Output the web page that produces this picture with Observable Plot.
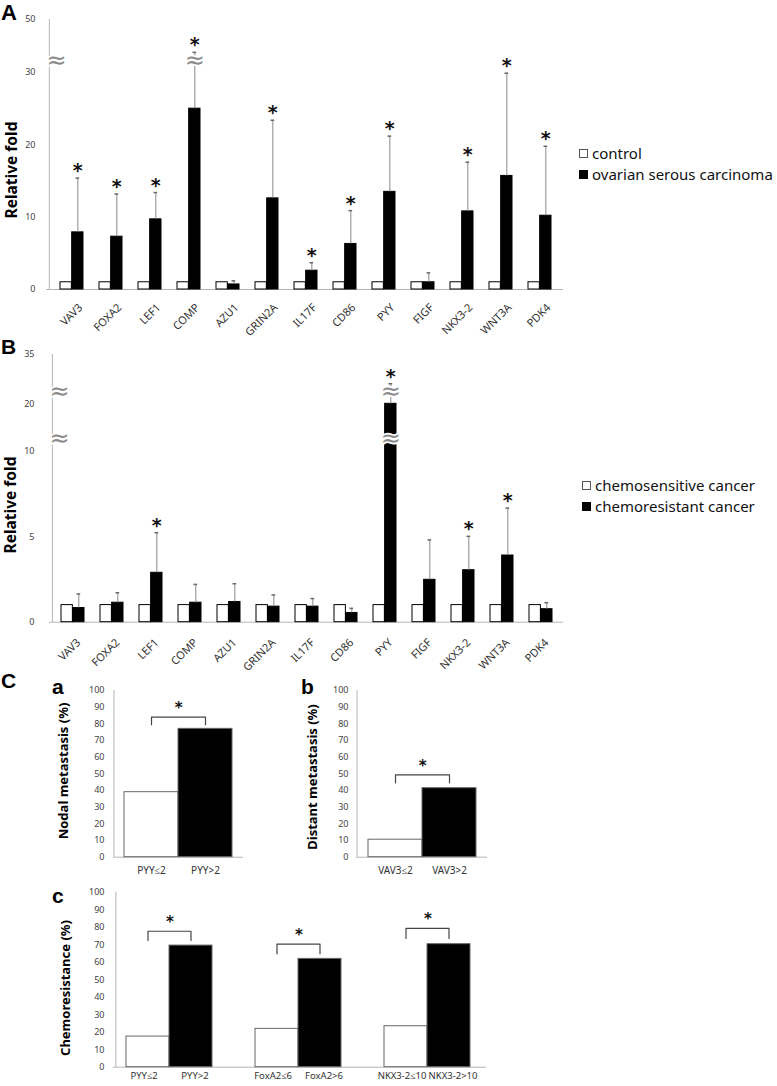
<!DOCTYPE html>
<html><head><meta charset="utf-8">
<script src="https://cdn.jsdelivr.net/npm/d3@7"></script>
<script src="https://cdn.jsdelivr.net/npm/@observablehq/plot@0.6"></script>
<style>
body{margin:0;background:#fff;font-family:"Noto Sans",sans-serif;}
#fig{position:relative;width:777px;height:1086px;overflow:hidden;background:#fff;}
.letter{position:absolute;font-weight:bold;font-family:"Liberation Sans",Arial,sans-serif;line-height:1;color:#000;}
.ytitle{position:absolute;font-weight:bold;white-space:nowrap;transform:translate(-50%,-50%) rotate(-90deg);line-height:1;color:#000;font-family:"Noto Sans",sans-serif;}
.legend{position:absolute;font-size:15px;line-height:21px;color:#111;white-space:nowrap;font-family:"Noto Sans",sans-serif;}
.sw{display:inline-block;width:7px;height:7px;border:1px solid #000;margin-right:4px;vertical-align:middle;position:relative;top:-1px;}
.glabel{position:absolute;font-size:11px;line-height:1;color:#333;white-space:nowrap;font-family:"Noto Sans",sans-serif;transform-origin:100% 50%;transform:translate(-100%,-50%) rotate(-45deg);}
</style></head><body><div id="fig"></div>
<script>
// ---------- data ----------
const genes = ["VAV3","FOXA2","LEF1","COMP","AZU1","GRIN2A","IL17F","CD86","PYY","FIGF","NKX3-2","WNT3A","PDK4"];
// Panel A
const aControl = [1,1,1,1,1,1,1,1,1,1,1,1,1];
const aCarcinoma = [7.9, 7.3, 9.7, 25.0, 0.7, 12.6, 2.6, 6.3, 13.5, 1.0, 10.8, 15.7, 10.2];
const aCarcinomaUpper = [15.4, 13.2, 13.4, 37.6, 1.2, 23.4, 3.7, 10.9, 21.2, 2.3, 17.6, 29.9, 19.8];
const aSignificant = ["VAV3","FOXA2","LEF1","COMP","GRIN2A","IL17F","CD86","PYY","NKX3-2","WNT3A","PDK4"];
const aTicks = [0, 10, 20, 30, 50];
const aBreakpoints = [0, 30, 50];      // axis break between 30 and 50
const aBreakSpan = [0, 217, 270];      // drawn length of each axis segment
const aBreaks = [34.5];
const aBreakGene = "COMP";
const aLegend = ["control", "ovarian serous carcinoma"];
// Panel B
const bSensitive = [1,1,1,1,1,1,1,1,1,1,1,1,1];
const bResistant = [0.83, 1.14, 2.89, 1.14, 1.18, 0.91, 0.91, 0.54, 20.0, 2.48, 3.04, 3.9, 0.76];
const bResistantUpper = [1.65, 1.72, 5.23, 2.21, 2.25, 1.59, 1.38, 0.81, 26.1, 4.81, 5.02, 6.67, 1.14];
const bSignificant = ["LEF1","PYY","NKX3-2","WNT3A"];
const bTicks = [0, 5, 10, 20, 35];
const bBreakpoints = [0, 10, 20, 35];  // axis breaks 10–20 and 20–35
const bBreakSpan = [0, 171, 218.4, 267.7];
const bBreaks = [12.7, 23.7];
const bBreakGene = "PYY";
const bLegend = ["chemosensitive cancer", "chemoresistant cancer"];
// Panel C
const caCats = ["PYY≤2", "PYY>2"];
const caValues = [39, 77];
const caBrackets = [{from: "PYY≤2", to: "PYY>2", top: 84, low: 79.5}];
const cbCats = ["VAV3≤2", "VAV3>2"];
const cbValues = [10.5, 41.4];
const cbBrackets = [{from: "VAV3≤2", to: "VAV3>2", top: 49.4, low: 44.6}];
const ccCats = ["PYY≤2", "PYY>2", "FoxA2≤6", "FoxA2>6", "NKX3-2≤10", "NKX3-2>10"];
const ccValues = [17.5, 69.5, 21.9, 61.9, 23.4, 70.3];
const ccBrackets = [
  {from: "PYY≤2", to: "PYY>2", top: 77.7, low: 72.4},
  {from: "FoxA2≤6", to: "FoxA2>6", top: 70.3, low: 64.8},
  {from: "NKX3-2≤10", to: "NKX3-2>10", top: 79.3, low: 73.6}
];
const pctTicks = [0,10,20,30,40,50,60,70,80,90,100];

// ---------- helpers ----------
const fig = document.getElementById("fig");
function place(el, left, top) {
  el.style.position = "absolute";
  el.style.left = left + "px";
  el.style.top = top + "px";
  fig.appendChild(el);
  return el;
}
function html(cls, text, left, top, extra) {
  const d = document.createElement("div");
  d.className = cls;
  d.textContent = text;
  if (extra) Object.assign(d.style, extra);
  return place(d, left, top);
}
function legend(labels, left, top) {
  const d = document.createElement("div");
  d.className = "legend";
  labels.forEach((lab, i) => {
    const row = document.createElement("div");
    const sw = document.createElement("span");
    sw.className = "sw";
    sw.style.background = i === 0 ? "#fff" : "#000";
    sw.style.borderColor = i === 0 ? "#555" : "#000";
    row.appendChild(sw);
    row.appendChild(document.createTextNode(lab));
    d.appendChild(row);
  });
  return place(d, left, top);
}
const axisGray = "#b5b5b5";

function geneChart(o) {
  const f = d3.scaleLinear().domain(o.breakpoints).range(o.breakSpan);
  const yTop = o.breakSpan[o.breakSpan.length - 1];
  const tickLabel = new Map(o.ticks.map(t => [f(t), String(t)]));
  const data = genes.map((g, i) => ({gene: g, ctrl: f(o.ctrl[i]), cas: f(o.cas[i]), upper: f(o.upper[i])}));
  const width = o.width;
  const inner = width - o.marginLeft - o.marginRight - o.insetLeft - o.insetRight;
  const step = inner / (genes.length - o.paddingInner);
  const bw = step * (1 - o.paddingInner);
  const half = bw / 2;
  const errX = bw / 4;
  const capW = 4;
  const sig = data.filter(d => o.sig.includes(d.gene));
  const axisBreaks = o.breaks.map(v => ({y: f(v)}));
  const barBreaks = o.breaks.map(v => ({gene: o.breakGene, y: f(v)}));
  const brk = {text: () => "≈", fontSize: 24, fontFamily: "DejaVu Sans", fill: "#8a8a8a", stroke: "white", strokeWidth: 3.5};
  const svg = Plot.plot({
    width, height: o.height,
    marginLeft: o.marginLeft, marginRight: o.marginRight,
    marginTop: o.marginTop, marginBottom: o.height - o.marginTop - yTop,
    style: {background: "none", fontFamily: "Noto Sans", overflow: "visible"},
    x: {domain: genes, paddingInner: o.paddingInner, paddingOuter: 0, insetLeft: o.insetLeft, insetRight: o.insetRight, axis: null},
    y: {domain: [0, yTop], axis: null},
    marks: [
      Plot.ruleX([genes[0]], {x: d => d, y1: () => 0, y2: () => yTop, dx: -(o.insetLeft + half), stroke: axisGray}),
      Plot.ruleY([0], {stroke: axisGray}),
      Plot.axisY({ticks: o.ticks.map(f), tickFormat: d => tickLabel.get(d), tickSize: 0, tickPadding: o.yPad, fontSize: 9, color: "#444", label: null}),
      Plot.barY(data, {x: "gene", y: "ctrl", fill: "white", stroke: "black", strokeWidth: 1, insetRight: half}),
      Plot.barY(data, {x: "gene", y: "cas", fill: "black", stroke: "black", insetLeft: half}),
      Plot.ruleX(data, {x: "gene", y1: "cas", y2: "upper", dx: errX, stroke: "#8a8a8a"}),
      Plot.tickY(data, {x: "gene", y: "upper", stroke: "#6a6a6a", strokeWidth: 1.5, insetLeft: 3 * bw / 4 - capW / 2, insetRight: bw / 4 - capW / 2}),
      Plot.text(sig, {x: "gene", y: "upper", dx: errX, dy: -7, text: () => "*", fontSize: 19, fontFamily: "DejaVu Sans", fontWeight: "bold", fill: "#111"}),
      Plot.text(axisBreaks, {y: "y", frameAnchor: "left", ...brk}),
      Plot.text(barBreaks, {x: "gene", y: "y", dx: errX, ...brk})
    ]
  });
  place(svg, 0, o.top);
  // slanted gene labels, positioned with the chart's own x and y scales
  const xs = svg.scale("x"), ys = svg.scale("y");
  genes.forEach(g => {
    const ax = xs.apply(g) + xs.bandwidth / 2 + o.labelDx;
    const ay = o.top + ys.apply(0) + o.labelDy;
    html("glabel", g, ax, ay);
  });
  return svg;
}

function pctChart(o) {
  const data = o.cats.map((c, i) => ({cat: c, value: o.values[i], high: i % 2 === 1}));
  const domain = o.domain || o.cats;
  const inner = o.width - o.marginLeft - o.marginRight - o.insetLeft - o.insetRight;
  const step = inner / domain.length;
  const lines = [];
  o.brackets.forEach((b, i) => {
    lines.push({id: i, cat: b.from, y: b.low}, {id: i, cat: b.from, y: b.top}, {id: i, cat: b.to, y: b.top}, {id: i, cat: b.to, y: b.low});
  });
  const lab = {x: "cat", y: () => 0, text: "cat", lineAnchor: "top", dy: o.xPad, fontSize: o.labelSize, fill: "#333"};
  const svg = Plot.plot({
    width: o.width, height: o.height,
    marginLeft: o.marginLeft, marginRight: o.marginRight, marginTop: o.marginTop, marginBottom: o.marginBottom,
    style: {background: "none", fontFamily: "Noto Sans", overflow: "visible"},
    x: {domain, padding: 0, insetLeft: o.insetLeft, insetRight: o.insetRight, axis: null},
    y: {domain: [0, 100], axis: null},
    marks: [
      Plot.ruleX([domain[0]], {x: d => d, y1: () => 0, y2: () => 100, dx: -(o.insetLeft + step / 2), stroke: axisGray}),
      Plot.ruleY([0], {stroke: axisGray}),
      Plot.axisY({ticks: pctTicks, tickSize: 0, tickPadding: o.yPad, fontSize: 9, color: "#444", label: null}),
      Plot.text(data.filter(d => !d.high), {...lab, dx: -o.labelShift}),
      Plot.text(data.filter(d => d.high), {...lab, dx: o.labelShift}),
      Plot.barY(data.filter(d => !d.high), {x: "cat", y: "value", fill: "white", stroke: "#666"}),
      Plot.barY(data.filter(d => d.high), {x: "cat", y: "value", fill: "black", stroke: "#666"}),
      Plot.line(lines, {x: "cat", y: "y", z: "id", stroke: "#444", strokeWidth: 1.2}),
      Plot.text(o.brackets, {x: "from", y: "top", dx: step / 2, dy: -9, text: () => "*", fontSize: 15, fontFamily: "DejaVu Sans", fontWeight: "bold", fill: "#111"})
    ]
  });
  return place(svg, o.left, o.top);
}

// ---------- Panel A ----------
geneChart({
  ctrl: aControl, cas: aCarcinoma, upper: aCarcinomaUpper, sig: aSignificant, top: 0,
  width: 777, height: 340, marginLeft: 46, marginRight: 214, marginTop: 19, insetLeft: 11, insetRight: 8, paddingInner: 0.41,
  breakpoints: aBreakpoints, breakSpan: aBreakSpan, ticks: aTicks, breaks: aBreaks, breakGene: aBreakGene,
  yPad: 11, labelDx: 8.5, labelDy: 16
});

// ---------- Panel B ----------
geneChart({
  ctrl: bSensitive, cas: bResistant, upper: bResistantUpper, sig: bSignificant, top: 335,
  width: 777, height: 345, marginLeft: 49, marginRight: 214, marginTop: 19, insetLeft: 9, insetRight: 8.4, paddingInner: 0.41,
  breakpoints: bBreakpoints, breakSpan: bBreakSpan, ticks: bTicks, breaks: bBreaks, breakGene: bBreakGene,
  yPad: 15, labelDx: 5, labelDy: 18
});

// ---------- Panel C ----------
pctChart({cats: caCats, values: caValues, brackets: caBrackets, left: 0, top: 680,
  width: 250, height: 200, marginLeft: 113, marginRight: 7, marginTop: 10, marginBottom: 23.3,
  insetLeft: 10.3, insetRight: 10.7, yPad: 9, xPad: 10, labelSize: 10, labelShift: 0});

pctChart({cats: cbCats, values: cbValues, brackets: cbBrackets, left: 260, top: 680,
  width: 240, height: 200, marginLeft: 96, marginRight: 13, marginTop: 10, marginBottom: 23.3,
  insetLeft: 11.3, insetRight: 11, yPad: 8, xPad: 10, labelSize: 10, labelShift: 0});

const ccDomain = [];
ccCats.forEach((c, i) => { ccDomain.push(c); if (i % 2 === 1 && i < ccCats.length - 1) ccDomain.push(" ".repeat((i + 1) / 2)); });
pctChart({cats: ccCats, values: ccValues, brackets: ccBrackets, domain: ccDomain, left: 0, top: 880,
  width: 500, height: 206, marginLeft: 113, marginRight: 14, marginTop: 11.7, marginBottom: 19.3,
  insetLeft: 10.3, insetRight: 13.7, yPad: 9, xPad: 5.5, labelSize: 9.5, labelShift: 4});

// ---------- text: letters, titles, legends ----------
html("letter", "A", 1, 2, {fontSize: "22px"});
html("letter", "B", 1, 336, {fontSize: "21px"});
html("letter", "C", 1, 670, {fontSize: "21px"});
html("letter", "a", 52, 676, {fontSize: "21px"});
html("letter", "b", 301, 676, {fontSize: "21px"});
html("letter", "c", 52, 885, {fontSize: "21px"});

html("ytitle", "Relative fold", 12, 170, {fontSize: "15.5px"});
html("ytitle", "Relative fold", 11, 505, {fontSize: "15.5px"});
html("ytitle", "Nodal metastasis (%)", 63, 771, {fontSize: "13px"});
html("ytitle", "Distant metastasis (%)", 312, 777, {fontSize: "13px"});
html("ytitle", "Chemoresistance (%)", 65, 988, {fontSize: "13px"});

legend(aLegend, 579, 143);
legend(bLegend, 582, 475);
</script></body></html>
